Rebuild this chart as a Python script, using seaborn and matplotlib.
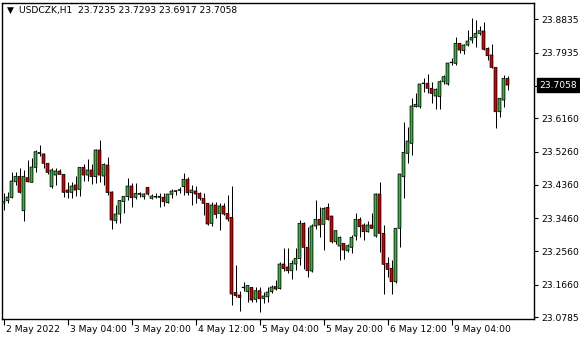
import matplotlib
matplotlib.use("Agg")
import matplotlib.pyplot as plt
import matplotlib.transforms as mtransforms
import numpy as np
import seaborn as sns

# ---------------- data (USDCZK, H1) ----------------
opens = [23.3868, 23.3930, 23.4022, 23.4444, 23.4590, 23.3660, 23.4552, 23.4428, 23.4833, 23.5206,
         23.5193, 23.4942, 23.4309, 23.4625, 23.4733, 23.4644, 23.4219, 23.4157, 23.4355, 23.4238,
         23.4833, 23.4625, 23.4760, 23.4579, 23.5301, 23.4598, 23.4895, 23.4165, 23.3389, 23.3570,
         23.3908, 23.4043, 23.4327, 23.4022, 23.4103, 23.4038, 23.4292, 23.3995, 23.4030, 23.4022,
         23.4022, 23.3876, 23.4103, 23.4184, 23.4211, 23.4309, 23.4509, 23.4146, 23.4192, 23.4130,
         23.3995, 23.3860, 23.3319, 23.3814, 23.3589, 23.3787, 23.3589, 23.3481, 23.1447, 23.1380,
         23.1578, 23.1469, 23.1583, 23.1264, 23.1496, 23.1291, 23.1334, 23.1469, 23.1610, 23.1556,
         23.2218, 23.2137, 23.2037, 23.2218, 23.2367, 23.3319, 23.2670, 23.2029, 23.3246, 23.3427,
         23.3292, 23.3751, 23.3516, 23.2821, 23.2705, 23.2778, 23.2578, 23.2670, 23.2975, 23.3427,
         23.3273, 23.3092, 23.3273, 23.2975, 23.4111, 23.3049, 23.2237, 23.2102, 23.1740, 23.3184,
         23.4579, 23.5212, 23.5482, 23.6472, 23.6472, 23.7099, 23.7105, 23.6970, 23.6761, 23.6742,
         23.7148, 23.7086, 23.7667, 23.7645, 23.8186, 23.7986, 23.8140, 23.8275, 23.8348, 23.8457,
         23.8519, 23.8051, 23.7870, 23.7537, 23.6337, 23.6653, 23.7235]
highs = [23.4138, 23.4173, 23.4698, 23.4698, 23.4806, 23.4760, 23.5031, 23.5077, 23.5301, 23.5436,
         23.5220, 23.4950, 23.4806, 23.4806, 23.4779, 23.4652, 23.4436, 23.4444, 23.4598, 23.4849,
         23.4914, 23.5050, 23.4914, 23.5328, 23.5571, 23.4958, 23.5120, 23.4192, 23.3814, 23.3949,
         23.4057, 23.4552, 23.4400, 23.4400, 23.4173, 23.4146, 23.4300, 23.4111, 23.4130, 23.4130,
         23.4130, 23.4111, 23.4238, 23.4219, 23.4309, 23.4687, 23.4563, 23.4355, 23.4327, 23.4173,
         23.4130, 23.3868, 23.3903, 23.3903, 23.3860, 23.3860, 23.4084, 23.4327, 23.2191, 23.1488,
         23.1740, 23.1651, 23.1596, 23.1588, 23.1596, 23.1469, 23.1605, 23.1651, 23.1786, 23.2281,
         23.2643, 23.2643, 23.2327, 23.2643, 23.3408, 23.3362, 23.3227, 23.3300, 23.3949, 23.3760,
         23.3751, 23.3860, 23.3530, 23.3138, 23.2975, 23.2794, 23.2759, 23.3002, 23.3589, 23.3497,
         23.3319, 23.3389, 23.3605, 23.4146, 23.4444, 23.3273, 23.2416, 23.2327, 23.3192, 23.4652,
         23.6066, 23.5931, 23.6699, 23.6834, 23.7086, 23.7248, 23.7356, 23.7148, 23.6970, 23.7194,
         23.7329, 23.7662, 23.7781, 23.8365, 23.8194, 23.8167, 23.8546, 23.8862, 23.8816, 23.8654,
         23.8770, 23.8078, 23.8167, 23.7553, 23.6699, 23.7329, 23.7293]
lows = [23.3679, 23.3876, 23.3995, 23.4355, 23.4151, 23.3389, 23.4444, 23.4428, 23.4714, 23.5139,
        23.4806, 23.4652, 23.4265, 23.4355, 23.4644, 23.4022, 23.4003, 23.4011, 23.4057, 23.4057,
        23.4463, 23.4463, 23.4374, 23.4409, 23.4444, 23.4355, 23.4084, 23.3165, 23.3327, 23.3327,
        23.3598, 23.3941, 23.3751, 23.3968, 23.4022, 23.3968, 23.4097, 23.3968, 23.3995, 23.3751,
        23.3787, 23.3860, 23.3995, 23.4084, 23.4146, 23.4084, 23.4084, 23.3814, 23.3876, 23.3949,
        23.3543, 23.3273, 23.3246, 23.3470, 23.3138, 23.3543, 23.3389, 23.1110, 23.1326, 23.0956,
        23.1502, 23.1199, 23.1183, 23.1178, 23.0929, 23.1172, 23.1199, 23.1442, 23.1515, 23.1542,
        23.2042, 23.1983, 23.1813, 23.2056, 23.2191, 23.2083, 23.1859, 23.2010, 23.3157, 23.2957,
        23.2597, 23.3408, 23.2778, 23.2759, 23.2327, 23.2346, 23.2551, 23.2524, 23.2867, 23.2957,
        23.2867, 23.3084, 23.3179, 23.2957, 23.2551, 23.1407, 23.1875, 23.1399, 23.1713, 23.2686,
        23.3995, 23.4942, 23.5166, 23.6464, 23.6445, 23.6869, 23.6850, 23.6564, 23.6402, 23.6402,
        23.7086, 23.7059, 23.7599, 23.7599, 23.7916, 23.7897, 23.8121, 23.8186, 23.8094, 23.8411,
        23.8005, 23.7735, 23.7510, 23.5888, 23.6202, 23.6472, 23.6917]
closes = [23.3908, 23.4030, 23.4463, 23.4590, 23.4157, 23.4590, 23.4444, 23.4841, 23.5255, 23.5233,
          23.4942, 23.4698, 23.4760, 23.4733, 23.4644, 23.4157, 23.4157, 23.4327, 23.4219, 23.4833,
          23.4625, 23.4760, 23.4579, 23.5301, 23.4625, 23.4909, 23.4151, 23.3408, 23.3570, 23.3935,
          23.4049, 23.4327, 23.4011, 23.4130, 23.4130, 23.4111, 23.4111, 23.4057, 23.4038, 23.4049,
          23.3903, 23.4111, 23.4192, 23.4200, 23.4227, 23.4509, 23.4146, 23.4219, 23.4111, 23.3995,
          23.3860, 23.3300, 23.3814, 23.3562, 23.3787, 23.3570, 23.3435, 23.1407, 23.1366, 23.1312,
          23.1588, 23.1637, 23.1245, 23.1496, 23.1280, 23.1353, 23.1461, 23.1596, 23.1542, 23.2218,
          23.2097, 23.2037, 23.2237, 23.2372, 23.3319, 23.2670, 23.2037, 23.3246, 23.3427, 23.3273,
          23.3724, 23.3427, 23.2821, 23.3119, 23.2940, 23.2597, 23.2713, 23.2940, 23.3427, 23.3227,
          23.3092, 23.3273, 23.3184, 23.4111, 23.3049, 23.2210, 23.2075, 23.1740, 23.3184, 23.4652,
          23.5239, 23.5544, 23.6491, 23.6537, 23.7086, 23.7105, 23.6970, 23.6834, 23.6942, 23.7148,
          23.7283, 23.7653, 23.7662, 23.8186, 23.8005, 23.8140, 23.8248, 23.8348, 23.8457, 23.8527,
          23.8024, 23.7851, 23.7537, 23.6337, 23.6699, 23.7240, 23.7058]

time_labels = ["2 May 2022", "3 May 04:00", "3 May 20:00", "4 May 12:00",
               "5 May 04:00", "5 May 20:00", "6 May 12:00", "9 May 04:00"]
price_ticks = [23.8835, 23.7935, 23.7035, 23.6160, 23.5260, 23.4360,
               23.3460, 23.2560, 23.1660, 23.0785]
price_labels = ["23.8835", "23.7935", "", "23.6160", "23.5260", "23.4360",
                "23.3460", "23.2560", "23.1660", "23.0785"]
symbol = "USDCZK,H1"
last_price = closes[-1]

# ---------------- style ----------------
sns.set_theme(style="white")
plt.rcParams["font.family"] = ["DejaVu Sans"]
FS = 6.6
BULL = "#3cb043"
BEAR = "#d40000"

fig = plt.figure(figsize=(5.8, 3.4), dpi=100)
W, H = 580, 340
AX_L, AX_R, AX_B, AX_T = 2, 534, 21.5, 337.5
ax = fig.add_axes([AX_L / W, AX_B / H, (AX_R - AX_L) / W, (AX_T - AX_B) / H])

YMIN, YMAX = 23.0745, 23.929
ax.set_xlim(-0.375, -0.375 + (AX_R - AX_L) / 4.0)
ax.set_ylim(YMIN, YMAX)
px_y = (YMAX - YMIN) / (AX_T - AX_B)   # one pixel in price units

o = np.array(opens); h = np.array(highs); l = np.array(lows); c = np.array(closes)
x = np.arange(len(o))
up = c >= o
colors = np.where(up, BULL, BEAR)

# wicks
ax.vlines(x, l, h, color="black", linewidth=0.72, zorder=2)
# bodies
bottoms = np.minimum(o, c)
heights = np.maximum(np.abs(c - o), 0.5 * px_y)
bodies = ax.bar(x, heights, bottom=bottoms, width=0.72, color=colors,
                edgecolor="black", linewidth=0.55, zorder=3)
for p in bodies:
    p.set_snap(False)

for s in ax.spines.values():
    s.set_color("black")
    s.set_linewidth(1.0)

# right price axis
ax.yaxis.tick_right()
ax.set_yticks(price_ticks)
ax.set_yticklabels(price_labels)
ax.tick_params(axis="y", which="both", right=True, left=False, length=3, width=0.8,
               color="black", labelsize=FS, pad=2, labelcolor="black")

# bottom time axis
ax.set_xticks(np.arange(0, 16 * len(time_labels), 16))
ax.set_xticklabels(time_labels)
ax.tick_params(axis="x", which="both", bottom=True, length=4, width=0.8,
               color="black", labelsize=FS, pad=1, labelcolor="black")
offset = mtransforms.ScaledTranslation(2 / 100, 0, fig.dpi_scale_trans)
for lbl in ax.get_xticklabels():
    lbl.set_horizontalalignment("left")
    lbl.set_transform(lbl.get_transform() + offset)

ax.grid(False)

# current price marker
tr = mtransforms.blended_transform_factory(ax.transAxes, ax.transData)
ax.text(1.0 + 5 / (AX_R - AX_L), last_price, f"{last_price:.4f}", transform=tr,
        ha="left", va="center", fontsize=FS, color="white", zorder=10,
        bbox=dict(boxstyle="square,pad=0.25", facecolor="black", edgecolor="black"))

# header
header = f"{symbol}  {opens[-1]:.4f} {highs[-1]:.4f} {lows[-1]:.4f} {closes[-1]:.4f}"
hy = 1 - 8 / (AX_T - AX_B)
ax.text(5 / (AX_R - AX_L), hy, "\u25BC", transform=ax.transAxes,
        ha="left", va="center", fontsize=6.5, color="black")
ax.text(17 / (AX_R - AX_L), hy, header, transform=ax.transAxes,
        ha="left", va="center", fontsize=FS, color="black")

fig.savefig("out.png", dpi=100, facecolor="white")
